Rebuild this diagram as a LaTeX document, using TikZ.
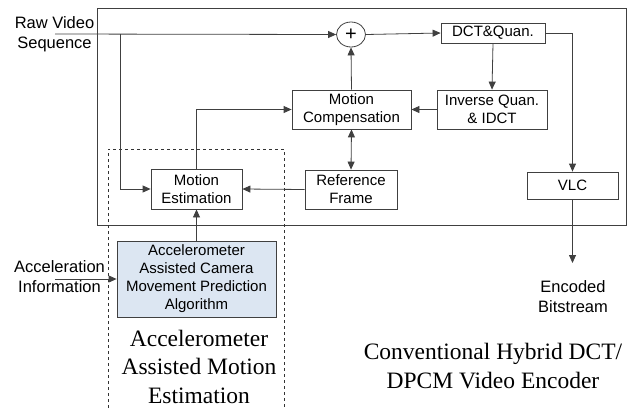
\documentclass[tikz,border=0pt]{standalone}
\usepackage{fontspec}
\setmainfont{Liberation Serif}
\setsansfont{Liberation Sans}
\usetikzlibrary{arrows.meta,shapes.geometric}
\definecolor{predfill}{HTML}{DCE6F2}

\begin{document}
\begin{tikzpicture}[x=1pt,y=-1pt,>={Triangle[length=8pt,width=7pt]},
  blk/.style={draw=black!75,line width=0.8pt,align=center,inner sep=0pt,
    font=\sffamily\fontsize{15}{18}\selectfont},
  lbl/.style={align=center,font=\sffamily\fontsize{16.5}{20}\selectfont},
  captext/.style={align=center,font=\fontsize{23.5}{28.5}\selectfont},
  wire/.style={draw=black!75,line width=0.8pt}]
  \useasboundingbox (0,0) rectangle (632,408);
  % encoder frame and the dashed motion estimation region
  \draw[wire] (97,8) rectangle (626,225);
  \draw[black!80,line width=0.7pt,dashed] (108,408) -- (108,149) -- (284,149) -- (284,408);
  % blocks
  \node[draw=black!75,line width=0.8pt,ellipse,minimum width=29,minimum height=25,inner sep=0pt,
    font=\sffamily\fontsize{20}{20}\selectfont] (sum) at (351,34.5) {+};
  \node[blk,minimum width=104,minimum height=20] (dct) at (493,33) {DCT\&Quan.};
  \node[blk,minimum width=110,minimum height=39] (iq) at (492,109.5) {Inverse Quan.\\\& IDCT};
  \node[blk,minimum width=119,minimum height=39] (mc) at (351.5,109.5) {Motion\\Compensation};
  \node[blk,minimum width=92,minimum height=39] (rf) at (351,189.5) {Reference\\Frame};
  \node[blk,minimum width=91,minimum height=40] (me) at (196.5,189) {Motion\\Estimation};
  \node[blk,minimum width=91,minimum height=27] (vlc) at (572.5,185.5) {VLC};
  \node[blk,fill=predfill,minimum width=159,minimum height=76] (accel) at (196.5,279)
    {Accelerometer\\Assisted Camera\\Movement Prediction\\Algorithm};
  % outside labels
  \node[lbl] (raw) at (54.5,34) {Raw Video\\Sequence};
  \node[lbl] (accin) at (59.5,277) {Acceleration\\Information};
  \node[lbl] (enc) at (573,297) {Encoded\\Bitstream};
  \node[captext] (mecap) at (199,366.5) {Accelerometer\\Assisted Motion\\Estimation};
  \node[captext] (enccap) at (493,366) {Conventional Hybrid DCT/\\DPCM Video Encoder};
  \coordinate (rawsrc) at (55,34);
  \coordinate (tap) at (120,34);
  \coordinate (accsrc) at (55,279);
  \coordinate (out) at (572.5,263);
  % connectors
  \draw[wire,->] (rawsrc) -- (sum.west);
  \draw[wire,->] (tap) |- (me.west);
  \draw[wire,->] (sum.east) -- (dct.west);
  \draw[wire,->] (dct.south) -- (iq.north);
  \draw[wire,->] (iq.west) -- (mc.east);
  \draw[wire,->] (mc.north) -- (sum.south);
  \draw[wire,<->] (mc.south) -- (rf.north);
  \draw[wire,->] (rf.west) -- (me.east);
  \draw[wire,->] (me.north) |- (mc.west);
  \draw[wire,->] (dct.east) -| (vlc.north);
  \draw[wire,->] (vlc.south) -- (out);
  \draw[wire,->] (accsrc) -- (accel.west);
  \draw[wire,->] (accel.north) -- (me.south);
\end{tikzpicture}
\end{document}
